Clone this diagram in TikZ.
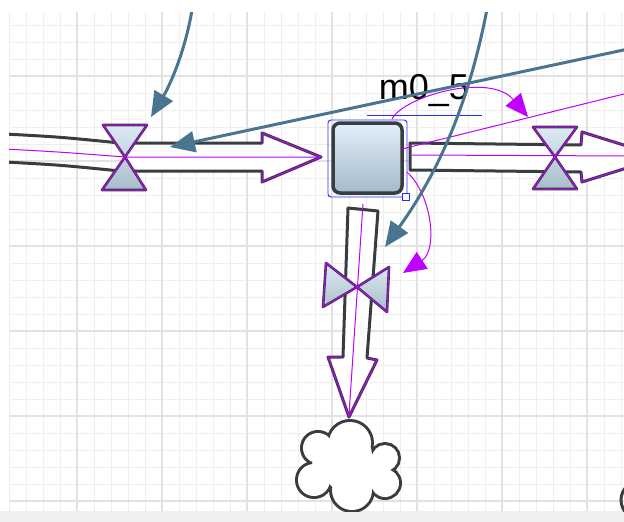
\documentclass[tikz,border=0pt]{standalone}
\usepackage{fontspec}
\setmainfont{Liberation Sans}
\usetikzlibrary{arrows.meta}
\definecolor{gridminor}{HTML}{EEEEEE}
\definecolor{gridmajor}{HTML}{E2E2E2}
\definecolor{pipeline}{HTML}{383D42}
\definecolor{conn}{HTML}{4A7590}
\definecolor{mag}{HTML}{BF00FF}
\definecolor{selblue}{HTML}{2B2BFF}
\definecolor{valvetop}{HTML}{DDEAF3}
\definecolor{valvebot}{HTML}{A8BCCA}
\definecolor{stocktop}{HTML}{E0F0FB}
\definecolor{stockbot}{HTML}{A6B9C7}
\definecolor{barcol}{HTML}{EFEFEF}
\tikzset{
  gridmin/.style={draw=gridminor, line width=1pt},
  gridmaj/.style={draw=gridmajor, line width=1.2pt},
  pipe/.style={draw=pipeline, line width=3pt, line join=round},
  pipefill/.style={fill=white},
  magedge/.style={draw=mag, line width=1pt, line join=round},
  magline/.style={draw=mag, line width=1pt},
  valveshape/.style={top color=valvetop, bottom color=valvebot, draw=pipeline, line width=2.6pt, line join=round,
     postaction={draw=mag, line width=1pt}},
  stockbox/.style={draw=pipeline, line width=3.5pt, rounded corners=7pt, top color=stocktop, bottom color=stockbot,
     minimum width=69pt, minimum height=70pt, inner sep=0pt},
  connector/.style={draw=conn, line width=3pt, -{Triangle[length=25pt,width=21pt]}},
  magarrow/.style={draw=mag, line width=1pt, -{Triangle[length=23pt,width=20pt]}},
  selrect/.style={draw=selblue, line width=0.9pt},
  cloudline/.style={draw=pipeline, line width=6pt},
  labeltext/.style={font=\fontsize{36}{40}\selectfont, text=black, inner sep=0pt}
}
\begin{document}
\begin{tikzpicture}[x=1pt, y=-1pt]
\useasboundingbox (0,0) rectangle (624,522);
\fill[white] (0,0) rectangle (624,522);
\fill[barcol] (0,511) rectangle (624,522);
\begin{scope}
\clip (9,12) rectangle (624,511);
% grid
\foreach \x in {9,26,...,624} \draw[gridmin] (\x,12) -- (\x,511);
\foreach \y in {25,42,...,511} \draw[gridmin] (9,\y) -- (624,\y);
\foreach \x in {77,162,...,624} \draw[gridmaj] (\x,12) -- (\x,511);
\foreach \y in {76,161,...,511} \draw[gridmaj] (9,\y) -- (624,\y);

% left inflow pipe (before valve)
\draw[pipe] (5,134) .. controls (60,137) .. (120,143);
\draw[pipe] (5,162) .. controls (60,165) .. (120,171);
% left inflow arrow
\fill[pipefill] (125,143) -- (262,143) -- (262,133) -- (321,157) -- (262,182) -- (262,171) -- (125,171) -- cycle;
\draw[pipe] (125,143) -- (262,143) -- (262,133) -- (321,157) -- (262,182) -- (262,171) -- (125,171);
\draw[magedge] (262,143) -- (262,133) -- (321,157) -- (262,182) -- (262,171);
\draw[magline] (5,149) .. controls (60,152) .. (125,157) -- (321,157);

% right outflow pipe
\fill[pipefill] (410,143) -- (581,145) -- (582,132) -- (662,157) -- (582,182) -- (581,172) -- (410,170) -- cycle;
\draw[pipe] (410,143) -- (581,145) -- (582,132) -- (662,157) -- (582,182) -- (581,172) -- (410,170) -- cycle;
\draw[magedge] (581,145) -- (582,132) -- (662,157) -- (582,182) -- (581,172);
\draw[magline] (412,155) -- (630,156);

% bottom outflow pipe
\fill[pipefill] (348,208) -- (378,211) -- (367,358) -- (377,360) -- (349,417) -- (328,357) -- (343,357) -- cycle;
\draw[pipe] (348,208) -- (378,211) -- (367,358) -- (377,360) -- (349,417) -- (328,357) -- (343,357) -- cycle;
\draw[magedge] (367,358) -- (377,360) -- (349,417) -- (328,357) -- (343,357);
\draw[magline] (363,204) -- (349,415);

% valves
\path[valveshape] (103,125) -- (147,125) -- (125,157) -- cycle (125,157) -- (102,190) -- (146,190) -- cycle;
\path[valveshape] (533,127) -- (577,127) -- (555,157) -- cycle (555,157) -- (533,189) -- (577,189) -- cycle;
\path[valveshape] (357,287) -- (326,263) -- (323,307) -- cycle (357,287) -- (389,267) -- (387,312) -- cycle;

% cloud (union of circles)
\foreach \cx/\cy/\r in {350/443/21, 385/458/13, 385/483/14, 352/490/20, 314/480/16, 318/448/15}
  \draw[cloudline] (\cx,\cy) circle[radius=\r];
\foreach \cx/\cy/\r in {350/443/21, 385/458/13, 385/483/14, 352/490/20, 314/480/16, 318/448/15, 350/468/26, 372/471/17, 330/466/18, 352/455/20}
  \fill[white] (\cx,\cy) circle[radius=\r];
\node[inner sep=0pt, minimum size=0pt] (cloud) at (350,466) {};
% partial cloud at right edge
\draw[pipeline, line width=3pt] (640,500) circle[radius=19];

% stock
\node[stockbox] (stock) at (367.5,158) {};
\draw[selrect, rounded corners=3pt] (328,120) rectangle (407,197);
\draw[selrect, fill=white] (402,193) rectangle (409,200);

% label
\node[labeltext, anchor=base] (lbl) at (424,99) {m0\_5};
\draw[draw=selblue, line width=0.9pt] (367,115) -- (482,115);

% magenta information links
\coordinate (m1s) at (392,119);
\coordinate (m1e) at (528,117);
\draw[magarrow] (m1s) .. controls (404,96) and (490,72) .. (m1e);
\coordinate (m2s) at (407,172);
\coordinate (m2e) at (403,273);
\draw[magarrow] (m2s) .. controls (432,195) and (438,250) .. (m2e);
\coordinate (m3s) at (402,149);
\coordinate (m3e) at (640,90);
\draw[magline] (m3s) -- (m3e);

% blue connectors
\coordinate (c1s) at (193,4);
\coordinate (c1e) at (151,117);
\draw[connector] (c1s) .. controls (186,50) and (170,85) .. (c1e);
\coordinate (c2s) at (640,46.5);
\coordinate (c2e) at (170,147);
\draw[connector] (c2s) -- (c2e);
\coordinate (c3s) at (488,4);
\coordinate (c3e) at (385,247);
\draw[connector] (c3s) .. controls (470,100) and (440,170) .. (c3e);
\end{scope}
\end{tikzpicture}
\end{document}
